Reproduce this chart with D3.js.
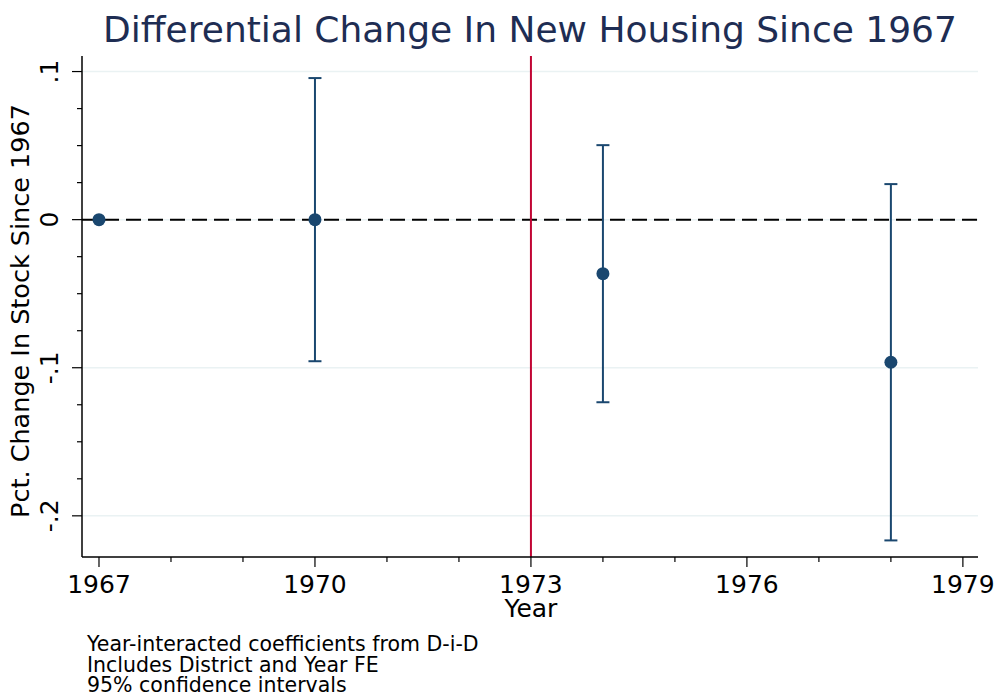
<!DOCTYPE html>
<html>
<head>
<meta charset="utf-8">
<script src="https://cdn.jsdelivr.net/npm/d3@7"></script>
<style>
  body { margin: 0; background: #fff; }
  text { font-family: "DejaVu Sans", sans-serif; }
</style>
</head>
<body>
<div id="chart"></div>
<script>
// data
const years = [1967, 1970, 1974, 1978];
const coefs = [0, 0, -0.0365, -0.0963];
const ciLow = [null, -0.0956, -0.1233, -0.2166];
const ciHigh = [null, 0.0956, 0.0503, 0.024];
const yTicks = [0.1, 0, -0.1, -0.2];
const yTickLabels = [".1", "0", "-.1", "-.2"];
const xTicks = [1967, 1970, 1973, 1976, 1979];
const treatYear = 1973;
const notes = ["Year-interacted coefficients from D-i-D", "Includes District and Year FE", "95% confidence intervals"];

const W = 1000, H = 698;
const margin = {top: 56, right: 22, bottom: 141, left: 82};
const width = W - margin.left - margin.right;
const height = H - margin.top - margin.bottom;

const svg = d3.select("#chart").append("svg")
    .attr("width", W)
    .attr("height", H);

const chart = svg.append("g")
    .attr("transform", `translate(${margin.left},${margin.top})`);

const x = d3.scaleLinear().domain([1966.764, 1979.21]).range([0, width]);
const y = d3.scaleLinear().domain([-0.2278, 0.1105]).range([height, 0]);

const navy = "#1a476f";

// gridlines
chart.selectAll(".grid").data(yTicks).join("line")
    .attr("class", "grid")
    .attr("x1", 0).attr("x2", width)
    .attr("y1", d => y(d)).attr("y2", d => y(d))
    .attr("stroke", "#eaf2f3").attr("stroke-width", 1.5);

// zero reference line
chart.append("line")
    .attr("x1", 0).attr("x2", width)
    .attr("y1", y(0)).attr("y2", y(0))
    .attr("stroke", "#000").attr("stroke-width", 2)
    .attr("stroke-dasharray", "15,7");

// treatment year line
chart.append("line")
    .attr("x1", x(treatYear)).attr("x2", x(treatYear))
    .attr("y1", 0).attr("y2", height)
    .attr("stroke", "#c10534").attr("stroke-width", 2);

// confidence intervals
const ci = years.map((yr, i) => ({yr, lo: ciLow[i], hi: ciHigh[i]})).filter(d => d.lo !== null);
const ciG = chart.append("g").attr("stroke", navy).attr("stroke-width", 2);
ciG.selectAll(".ci").data(ci).join("line")
    .attr("x1", d => x(d.yr)).attr("x2", d => x(d.yr))
    .attr("y1", d => y(d.hi)).attr("y2", d => y(d.lo));
ciG.selectAll(".capHi").data(ci).join("line")
    .attr("x1", d => x(d.yr) - 6.5).attr("x2", d => x(d.yr) + 6.5)
    .attr("y1", d => y(d.hi)).attr("y2", d => y(d.hi));
ciG.selectAll(".capLo").data(ci).join("line")
    .attr("x1", d => x(d.yr) - 6.5).attr("x2", d => x(d.yr) + 6.5)
    .attr("y1", d => y(d.lo)).attr("y2", d => y(d.lo));

// points
chart.selectAll(".pt").data(years).join("circle")
    .attr("cx", d => x(d))
    .attr("cy", (d, i) => y(coefs[i]))
    .attr("r", 6.5)
    .attr("fill", navy);

// axes
const xMinor = d3.range(1967, 1980);
const xAxisG = chart.append("g").attr("transform", `translate(0,${height})`);
xAxisG.append("line").attr("x1", 0).attr("x2", width).attr("stroke", "#000").attr("stroke-width", 1.5);
xAxisG.selectAll(".minor").data(xMinor).join("line")
    .attr("x1", d => x(d)).attr("x2", d => x(d))
    .attr("y1", 0).attr("y2", d => xTicks.includes(d) ? 10 : 5)
    .attr("stroke", "#000").attr("stroke-width", 1.2);
xAxisG.selectAll(".lab").data(xTicks).join("text")
    .attr("x", d => x(d)).attr("y", 35.5)
    .attr("text-anchor", "middle")
    .attr("font-size", 25)
    .text(d => d);

const yMinor = d3.range(-8, 5).map(i => i * 0.025);
const yAxisG = chart.append("g");
yAxisG.append("line").attr("y1", 0).attr("y2", height).attr("stroke", "#000").attr("stroke-width", 1.5);
yAxisG.selectAll(".minor").data(yMinor).join("line")
    .attr("y1", d => y(d)).attr("y2", d => y(d))
    .attr("x1", 0).attr("x2", (d, i) => i % 4 === 0 ? -10 : -5)
    .attr("stroke", "#000").attr("stroke-width", 1.2);
yAxisG.selectAll(".lab").data(yTicks).join("text")
    .attr("transform", d => `translate(-24,${y(d)}) rotate(-90)`)
    .attr("text-anchor", "middle")
    .attr("font-size", 25)
    .text((d, i) => yTickLabels[i]);

// titles
svg.append("text")
    .attr("x", 530).attr("y", 42)
    .attr("text-anchor", "middle")
    .attr("font-size", 36)
    .attr("fill", "#1e2d53")
    .text("Differential Change In New Housing Since 1967");

svg.append("text")
    .attr("transform", `translate(29,311) rotate(-90)`)
    .attr("text-anchor", "middle")
    .attr("font-size", 25.5)
    .text("Pct. Change In Stock Since 1967");

svg.append("text")
    .attr("x", margin.left + x(treatYear)).attr("y", 617)
    .attr("text-anchor", "middle")
    .attr("font-size", 25)
    .text("Year");

svg.selectAll(".note").data(notes).join("text")
    .attr("x", 87)
    .attr("y", (d, i) => 651 + i * 20.5)
    .attr("font-size", 20.5)
    .text(d => d);
</script>
</body>
</html>
